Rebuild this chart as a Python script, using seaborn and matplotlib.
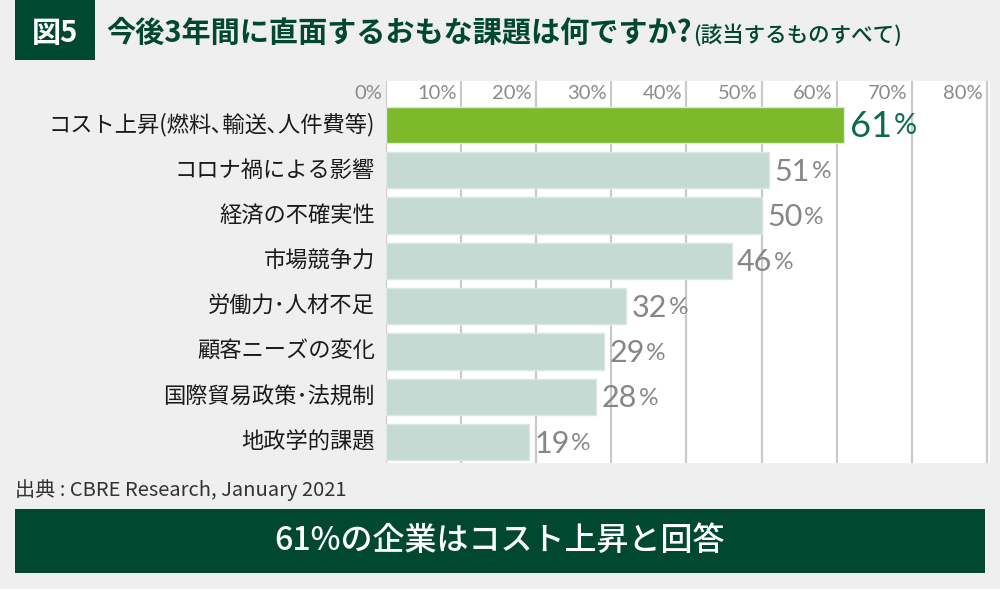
import matplotlib
matplotlib.use("Agg")
import matplotlib.pyplot as plt
import seaborn as sns
import pandas as pd
from matplotlib.patches import Rectangle
import matplotlib.transforms as mtransforms

categories = ["コスト上昇(燃料､輸送､人件費等)", "コロナ禍による影響", "経済の不確実性", "市場競争力",
              "労働力･人材不足", "顧客ニーズの変化", "国際貿易政策･法規制", "地政学的課題"]
values = [61, 51, 50, 46, 32, 29, 28, 19]
ticks = [0, 10, 20, 30, 40, 50, 60, 70, 80]
tick_labels = [f"{t}%" for t in ticks]
title_main = "今後3年間に直面するおもな課題は何ですか?"
title_sub = "(該当するものすべて)"
fig_label = "図5"
source = "出典 : CBRE Research, January 2021"
banner = "61%の企業はコスト上昇と回答"

BG = "#efefef"
DARK = "#00482f"
GREEN = "#7cba2b"
GRAYBAR = "#c5dad2"

sns.set_theme(style="white")
plt.rcParams['font.family'] = ['Noto Sans CJK JP', 'DejaVu Sans']
NUMFONT = ['Lato', 'Noto Sans CJK JP', 'DejaVu Sans']

fig = plt.figure(figsize=(10, 5.89), dpi=100, facecolor=BG)
W, H = 1000, 589

def fx(px):
    return px / W

def fy(py):
    return 1 - py / H

ax = fig.add_axes([fx(386), fy(463), fx(990) - fx(386), fy(81) - fy(463)])
ax.set_facecolor("white")

df = pd.DataFrame({"cat": categories, "val": values})
colors = [GREEN] + [GRAYBAR] * (len(categories) - 1)
sns.barplot(data=df, x="val", y="cat", hue="cat", palette=colors, legend=False, saturation=1,
            orient="h", width=0.8, ax=ax, edgecolor="#dbe8e2", linewidth=1, zorder=3)

ax.set_xlim(0, 80.4)
ax.set_ylim(7.46, -0.97)
for t in ticks:
    ax.axvline(t, color="#c9c9c9", lw=1.6, zorder=1)
for s in ax.spines.values():
    s.set_visible(False)
ax.set_xlabel("")
ax.set_ylabel("")
ax.set_xticks([])
ax.set_yticks([])

trans = mtransforms.blended_transform_factory(ax.transData, ax.transAxes)
for t, lab in zip(ticks, tick_labels):
    ax.annotate(lab, xy=(t, 1), xycoords=trans, xytext=(-3, -3), textcoords="offset points",
                ha="right", va="top", fontsize=14.5, color="#8a8a8a", family=NUMFONT,
                annotation_clip=False)

for i, c in enumerate(categories):
    ax.annotate(c, xy=(0, i), xycoords="data", xytext=(-8, 0), textcoords="offset points",
                ha="right", va="center", fontsize=16, color="#1a1a1a", annotation_clip=False)

for i, v in enumerate(values):
    col = "#0d6a4c" if i == 0 else "#878787"
    fs = 26 if i == 0 else 22
    t = ax.annotate(f"{v}", xy=(v, i), xycoords="data", xytext=(4, -1), textcoords="offset points",
                    ha="left", va="center", fontsize=fs, color=col, family=NUMFONT,
                    annotation_clip=False)
    ax.annotate("%", xy=(1, 0.12), xycoords=t, xytext=(1, 0), textcoords="offset points",
                ha="left", va="bottom", fontsize=fs * 0.8, color=col, family=NUMFONT,
                annotation_clip=False)

fig.patches.append(Rectangle((fx(15), fy(60)), fx(80), fy(0) - fy(60), transform=fig.transFigure,
                             facecolor=DARK, edgecolor="none"))
fig.text(fx(55), fy(33), fig_label, ha="center", va="center", fontsize=21, color="white", fontweight="bold")
tm = fig.text(fx(106), fy(33), title_main, ha="left", va="center", fontsize=21, color=DARK, fontweight="bold")
fig.canvas.draw()
bb = tm.get_window_extent()
fig.text(bb.x1 / W + 0.002, fy(35), title_sub, ha="left", va="center", fontsize=15.5, color=DARK, fontweight="medium")

fig.text(fx(15), fy(490), source, ha="left", va="center", fontsize=14.5, color="#333333")

fig.patches.append(Rectangle((fx(15), fy(573)), fx(970), fy(509) - fy(573), transform=fig.transFigure,
                             facecolor=DARK, edgecolor="none"))
fig.text(fx(500), fy(541), banner, ha="center", va="center", fontsize=23, color="white", fontweight="medium")

fig.savefig("out.png", dpi=100, facecolor=BG)
